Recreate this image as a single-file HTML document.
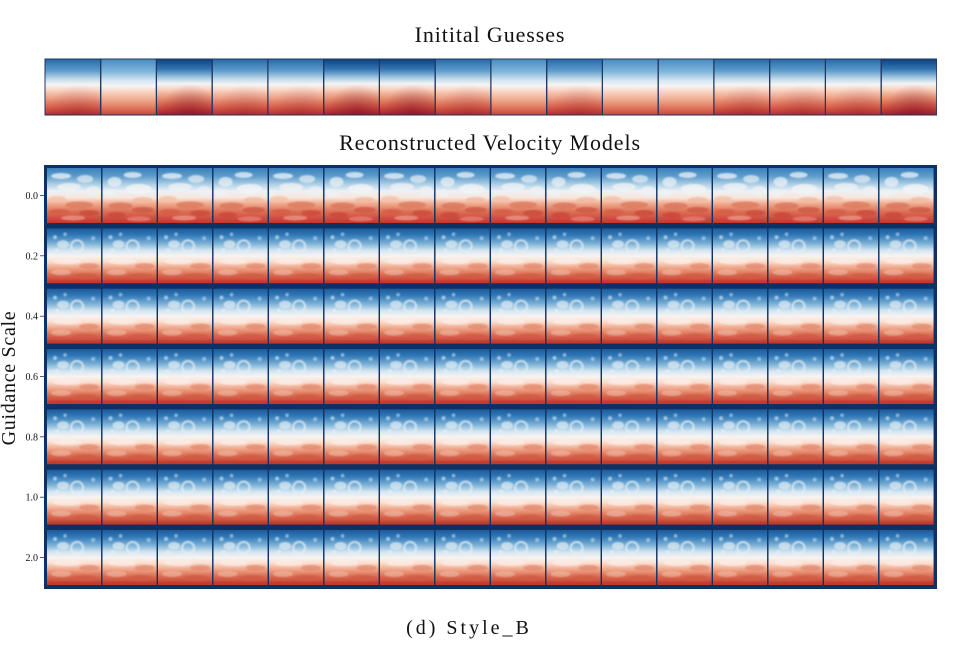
<!DOCTYPE html>
<html><head><meta charset="utf-8"><style>
html,body{margin:0;padding:0;background:#fff;}
svg{display:block;}
text{font-family:"Liberation Serif",serif;fill:#111;}
</style></head><body>
<svg width="959" height="655" viewBox="0 0 959 655" xmlns="http://www.w3.org/2000/svg">
<defs>
<filter id="bl" x="-20%" y="-20%" width="140%" height="140%"><feGaussianBlur stdDeviation="0.9"/></filter>
<linearGradient id="g0" x1="0" y1="0" x2="0" y2="1">
<stop offset="0" stop-color="#3a80bc"/><stop offset=".15" stop-color="#5e9dcb"/><stop offset=".3" stop-color="#b0d0e6"/><stop offset=".42" stop-color="#ecf1f5"/><stop offset=".54" stop-color="#f8e6dc"/><stop offset=".64" stop-color="#f1ae93"/><stop offset=".78" stop-color="#de7459"/><stop offset=".9" stop-color="#cf5140"/><stop offset="1" stop-color="#c0372d"/>
</linearGradient>
<linearGradient id="g1" x1="0" y1="0" x2="0" y2="1">
<stop offset="0" stop-color="#1d5a9b"/><stop offset=".12" stop-color="#2f77b6"/><stop offset=".28" stop-color="#7db2d7"/><stop offset=".4" stop-color="#d3e5f0"/><stop offset=".5" stop-color="#f7f4f2"/><stop offset=".6" stop-color="#fbdfd0"/><stop offset=".71" stop-color="#f0aa8e"/><stop offset=".84" stop-color="#da6c52"/><stop offset="1" stop-color="#c1392d"/>
</linearGradient>
<linearGradient id="ga" x1="0" y1="0" x2="0" y2="1">
<stop offset="0" stop-color="#2a6aaa"/><stop offset=".2" stop-color="#5c9bcb"/><stop offset=".36" stop-color="#c4dcea"/><stop offset=".46" stop-color="#f5f5f5"/><stop offset=".56" stop-color="#f8d3c1"/><stop offset=".7" stop-color="#eda085"/><stop offset=".86" stop-color="#d8624d"/><stop offset="1" stop-color="#bb2f2d"/>
</linearGradient>
<linearGradient id="gb" x1="0" y1="0" x2="0" y2="1">
<stop offset="0" stop-color="#4a8cc3"/><stop offset=".22" stop-color="#80b6da"/><stop offset=".38" stop-color="#d4e6f1"/><stop offset=".48" stop-color="#f6f5f4"/><stop offset=".58" stop-color="#f8d6c6"/><stop offset=".74" stop-color="#efa88b"/><stop offset=".9" stop-color="#dd6e56"/><stop offset="1" stop-color="#c9473a"/>
</linearGradient>
<linearGradient id="gc" x1="0" y1="0" x2="0" y2="1">
<stop offset="0" stop-color="#0d4382"/><stop offset=".18" stop-color="#3577b4"/><stop offset=".34" stop-color="#abcde5"/><stop offset=".44" stop-color="#f3f4f5"/><stop offset=".54" stop-color="#f9d3c0"/><stop offset=".68" stop-color="#ea9a7d"/><stop offset=".84" stop-color="#d35a47"/><stop offset="1" stop-color="#a9202a"/>
</linearGradient>
<radialGradient id="dk" cx=".6" cy="1" r=".55"><stop offset="0" stop-color="#7a0a22" stop-opacity=".8"/><stop offset="1" stop-color="#7a0a22" stop-opacity="0"/></radialGradient>

<symbol id="r0a" viewBox="0 0 54 55" preserveAspectRatio="none">
<rect width="54" height="55" fill="url(#g0)"/>
<g filter="url(#bl)">
<ellipse cx="14" cy="8" rx="10" ry="3" fill="#e6f0f7" opacity=".8"/>
<ellipse cx="38" cy="11" rx="8" ry="4" fill="#dce9f3" opacity=".75"/>
<ellipse cx="22" cy="19" rx="12" ry="4" fill="#f2f4f6" opacity=".75"/>
<ellipse cx="46" cy="23" rx="7" ry="5" fill="#eef2f5" opacity=".75"/>
<ellipse cx="10" cy="31" rx="9" ry="3" fill="#f4c0a8" opacity=".8"/>
<ellipse cx="32" cy="37" rx="14" ry="3.5" fill="#dc7a5f" opacity=".8"/>
<ellipse cx="12" cy="44" rx="10" ry="3" fill="#d45c47" opacity=".8"/>
<ellipse cx="42" cy="45" rx="10" ry="3" fill="#cb4b3c" opacity=".8"/>
<ellipse cx="26" cy="50" rx="12" ry="2.5" fill="#f0b197" opacity=".6"/>
</g>
</symbol>
<symbol id="r0b" viewBox="0 0 54 55" preserveAspectRatio="none">
<rect width="54" height="55" fill="url(#g0)"/>
<g filter="url(#bl)">
<ellipse cx="30" cy="7" rx="9" ry="3" fill="#e3eef6" opacity=".8"/>
<ellipse cx="12" cy="14" rx="7" ry="5" fill="#e8f0f6" opacity=".75"/>
<ellipse cx="36" cy="21" rx="13" ry="5" fill="#f3f5f6" opacity=".8"/>
<ellipse cx="8" cy="25" rx="6" ry="4" fill="#eef2f5" opacity=".7"/>
<ellipse cx="40" cy="32" rx="10" ry="3" fill="#f2b9a0" opacity=".8"/>
<ellipse cx="18" cy="38" rx="12" ry="3.5" fill="#da765c" opacity=".8"/>
<ellipse cx="40" cy="42" rx="11" ry="3" fill="#ce5844" opacity=".8"/>
<ellipse cx="14" cy="47" rx="9" ry="3" fill="#c84838" opacity=".8"/>
<ellipse cx="36" cy="51" rx="12" ry="2.5" fill="#eda58a" opacity=".5"/>
</g>
</symbol>
<symbol id="r1" viewBox="0 0 54 55" preserveAspectRatio="none">
<rect width="54" height="55" fill="url(#g1)"/>
<g filter="url(#bl)">
<circle cx="8" cy="9" r="2" fill="#cfe2f0" opacity=".7"/>
<circle cx="18" cy="6" r="1.8" fill="#cfe2f0" opacity=".6"/>
<circle cx="46" cy="10" r="2" fill="#c8def0" opacity=".6"/>
<ellipse cx="16" cy="16" rx="6" ry="4" fill="#dbe9f3" opacity=".75"/>
<circle cx="30" cy="18" r="6" fill="none" stroke="#e2eef6" stroke-width="2.2" opacity=".75"/>
<circle cx="10" cy="22" r="2" fill="#e6f0f6" opacity=".7"/>
<ellipse cx="20" cy="33" rx="14" ry="3" fill="#fbeee8" opacity=".75"/>
<ellipse cx="42" cy="38" rx="10" ry="3" fill="#e3856a" opacity=".7"/>
<ellipse cx="14" cy="44" rx="10" ry="3" fill="#f2bda7" opacity=".6"/>
<ellipse cx="38" cy="48" rx="12" ry="3" fill="#d05843" opacity=".7"/>
<rect x="0" y="52" width="54" height="3" fill="#c2372b" opacity=".8"/>
</g>
</symbol>
<symbol id="ia" viewBox="0 0 54 55" preserveAspectRatio="none">
<rect width="54" height="55" fill="url(#ga)"/>
<rect width="54" height="55" fill="url(#dk)" opacity=".3"/>
</symbol>
<symbol id="ib" viewBox="0 0 54 55" preserveAspectRatio="none">
<rect width="54" height="55" fill="url(#gb)"/>
</symbol>
<symbol id="ic" viewBox="0 0 54 55" preserveAspectRatio="none">
<rect width="54" height="55" fill="url(#gc)"/>
<rect width="54" height="55" fill="url(#dk)" opacity=".6"/>
</symbol>
</defs>

<text x="490" y="42" font-size="22" letter-spacing="0.9" text-anchor="middle">Initital Guesses</text>
<text x="490" y="150" font-size="22" letter-spacing="0.9" text-anchor="middle">Reconstructed Velocity Models</text>

<!-- top strip -->
<rect x="44.5" y="58.5" width="892.5" height="57" fill="#1e3660"/>
<use href="#ia" x="45.5" y="59.5" width="54.6" height="55"/>
<use href="#ib" x="101.25" y="59.5" width="54.6" height="55"/>
<use href="#ic" x="157" y="59.5" width="54.6" height="55"/>
<use href="#ia" x="212.75" y="59.5" width="54.6" height="55"/>
<use href="#ia" x="268.5" y="59.5" width="54.6" height="55"/>
<use href="#ic" x="324.25" y="59.5" width="54.6" height="55"/>
<use href="#ic" x="380" y="59.5" width="54.6" height="55"/>
<use href="#ia" x="435.75" y="59.5" width="54.6" height="55"/>
<use href="#ib" x="491.5" y="59.5" width="54.6" height="55"/>
<use href="#ia" x="547.25" y="59.5" width="54.6" height="55"/>
<use href="#ib" x="603" y="59.5" width="54.6" height="55"/>
<use href="#ib" x="658.75" y="59.5" width="54.6" height="55"/>
<use href="#ia" x="714.5" y="59.5" width="54.6" height="55"/>
<use href="#ia" x="770.25" y="59.5" width="54.6" height="55"/>
<use href="#ia" x="826" y="59.5" width="54.6" height="55"/>
<use href="#ic" x="881.75" y="59.5" width="54.6" height="55"/>

<!-- main grid -->
<rect x="44" y="165" width="893" height="424" fill="#0e3163"/>
<g id="row0">
<use href="#r0a" x="47" y="168" width="54.2" height="55"/>
<use href="#r0b" x="102.5" y="168" width="54.2" height="55"/>
<use href="#r0a" x="158" y="168" width="54.2" height="55"/>
<use href="#r0b" x="213.5" y="168" width="54.2" height="55"/>
<use href="#r0a" x="269" y="168" width="54.2" height="55"/>
<use href="#r0b" x="324.5" y="168" width="54.2" height="55"/>
<use href="#r0a" x="380" y="168" width="54.2" height="55"/>
<use href="#r0b" x="435.5" y="168" width="54.2" height="55"/>
<use href="#r0a" x="491" y="168" width="54.2" height="55"/>
<use href="#r0b" x="546.5" y="168" width="54.2" height="55"/>
<use href="#r0a" x="602" y="168" width="54.2" height="55"/>
<use href="#r0b" x="657.5" y="168" width="54.2" height="55"/>
<use href="#r0a" x="713" y="168" width="54.2" height="55"/>
<use href="#r0b" x="768.5" y="168" width="54.2" height="55"/>
<use href="#r0a" x="824" y="168" width="54.2" height="55"/>
<use href="#r0b" x="879.5" y="168" width="54.2" height="55"/>
</g>
<g id="rowN">
<use href="#r1" x="47" y="228.3" width="54.2" height="55"/>
<use href="#r1" x="102.5" y="228.3" width="54.2" height="55"/>
<use href="#r1" x="158" y="228.3" width="54.2" height="55"/>
<use href="#r1" x="213.5" y="228.3" width="54.2" height="55"/>
<use href="#r1" x="269" y="228.3" width="54.2" height="55"/>
<use href="#r1" x="324.5" y="228.3" width="54.2" height="55"/>
<use href="#r1" x="380" y="228.3" width="54.2" height="55"/>
<use href="#r1" x="435.5" y="228.3" width="54.2" height="55"/>
<use href="#r1" x="491" y="228.3" width="54.2" height="55"/>
<use href="#r1" x="546.5" y="228.3" width="54.2" height="55"/>
<use href="#r1" x="602" y="228.3" width="54.2" height="55"/>
<use href="#r1" x="657.5" y="228.3" width="54.2" height="55"/>
<use href="#r1" x="713" y="228.3" width="54.2" height="55"/>
<use href="#r1" x="768.5" y="228.3" width="54.2" height="55"/>
<use href="#r1" x="824" y="228.3" width="54.2" height="55"/>
<use href="#r1" x="879.5" y="228.3" width="54.2" height="55"/>
</g>
<use href="#rowN" y="60.33"/>
<use href="#rowN" y="120.67"/>
<use href="#rowN" y="181"/>
<use href="#rowN" y="241.33"/>
<use href="#rowN" y="301.67"/>

<!-- ticks -->
<g stroke="#333" stroke-width="0.8">
<line x1="40" y1="195.5" x2="44" y2="195.5"/>
<line x1="40" y1="255.8" x2="44" y2="255.8"/>
<line x1="40" y1="316.2" x2="44" y2="316.2"/>
<line x1="40" y1="376.5" x2="44" y2="376.5"/>
<line x1="40" y1="436.8" x2="44" y2="436.8"/>
<line x1="40" y1="497.2" x2="44" y2="497.2"/>
<line x1="40" y1="557.5" x2="44" y2="557.5"/>
</g>
<g font-size="10" text-anchor="end">
<text x="38" y="199">0.0</text>
<text x="38" y="259.3">0.2</text>
<text x="38" y="319.7">0.4</text>
<text x="38" y="380">0.6</text>
<text x="38" y="440.3">0.8</text>
<text x="38" y="500.7">1.0</text>
<text x="38" y="561">2.0</text>
</g>
<text transform="translate(15,378) rotate(-90)" font-size="20" letter-spacing="0.7" text-anchor="middle">Guidance Scale</text>

<text x="469" y="634" font-size="20" letter-spacing="3" text-anchor="middle">(d) Style_B</text>
</svg>
</body></html>
